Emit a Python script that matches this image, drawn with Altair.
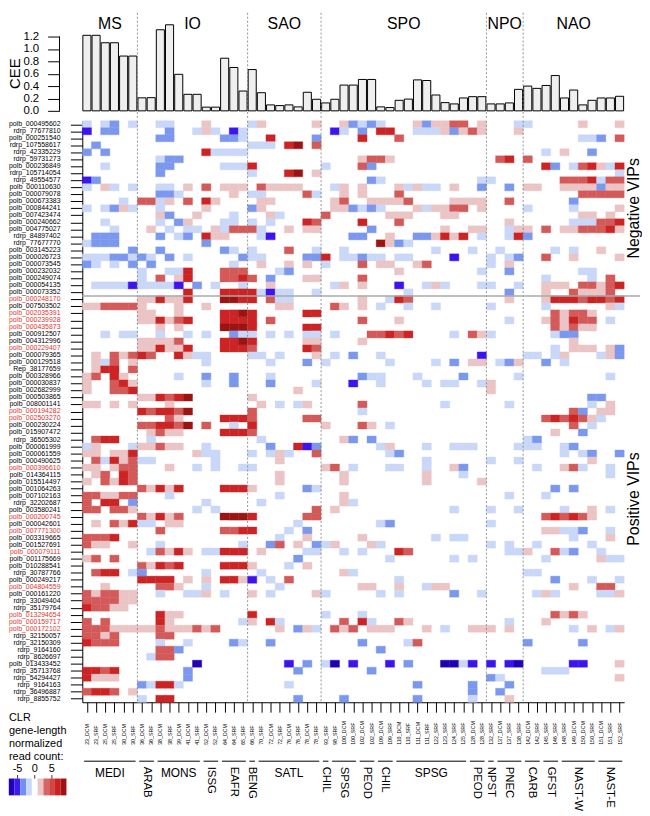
import altair as alt
import pandas as pd

FONT = "Liberation Sans"

samples = ["23_DCM", "23_SRF", "25_DCM", "25_SRF", "30_DCM", "30_SRF", "36_DCM", "36_SRF",
           "38_DCM", "38_SRF", "39_DCM", "41_DCM", "41_SRF", "52_DCM", "52_SRF", "64_DCM",
           "64_SRF", "65_SRF", "66_SRF", "70_SRF", "72_DCM", "72_SRF", "76_DCM", "76_SRF",
           "78_DCM", "78_SRF", "93_SRF", "98_SRF", "100_DCM", "100_SRF", "102_DCM", "102_SRF",
           "109_DCM", "109_SRF", "110_DCM", "110_SRF", "111_DCM", "111_SRF", "122_SRF", "123_SRF",
           "124_SRF", "125_SRF", "128_DCM", "128_SRF", "132_SRF", "137_DCM", "137_SRF", "138_SRF",
           "142_DCM", "142_SRF", "145_SRF", "146_SRF", "148_SRF", "149_DCM", "150_DCM", "150_SRF",
           "151_DCM", "151_SRF", "152_SRF"]

cee = [1.22, 1.22, 1.10, 1.10, 0.885, 0.885, 0.21, 0.213, 1.31, 1.39, 0.59, 0.267, 0.267,
       0.06, 0.06, 0.85, 0.70, 0.32, 0.667, 0.293, 0.096, 0.085, 0.096, 0.064, 0.30, 0.187,
       0.128, 0.187, 0.416, 0.416, 0.507, 0.507, 0.064, 0.053, 0.17, 0.19, 0.50, 0.49, 0.256,
       0.133, 0.112, 0.208, 0.229, 0.229, 0.112, 0.112, 0.128, 0.347, 0.40, 0.363, 0.41, 0.57,
       0.208, 0.336, 0.096, 0.17, 0.208, 0.208, 0.235]

genes = ["polb_000495602", "rdrp_77677810", "polb_000251540", "rdrp_107558617", "rdrp_42335229",
         "rdrp_59731273", "polb_000236849", "rdrp_105714054", "rdrp_49554577", "polb_000110630",
         "polb_000079078", "polb_000673383", "polb_000844241", "polb_007423474", "polb_000240662",
         "polb_004775027", "rdrp_84897402", "rdrp_77677770", "polb_003145223", "polb_000026723",
         "polb_000073545", "polb_000232032", "polb_000249074", "polb_000054135", "polb_000073352",
         "polb_000248170", "polb_007503502", "polb_002035391", "polb_000239928", "polb_000435873",
         "polb_000912507", "polb_004312996", "polb_000229407", "polb_000079365", "polb_000129518",
         "Rep_38177659", "polb_000328966", "polb_000030837", "polb_002682999", "polb_000503865",
         "polb_008001141", "polb_000194282", "polb_002503270", "polb_000230224", "polb_015907472",
         "rdrp_36505302", "polb_000061999", "polb_000061559", "polb_000490625", "polb_000396610",
         "polb_014364115", "polb_015514497", "polb_001064263", "polb_007102163", "rdrp_32202687",
         "polb_003580241", "polb_000200745", "polb_000042601", "polb_007771300", "polb_003319665",
         "polb_001527691", "polb_000079111", "polb_001175669", "polb_010288541", "rdrp_30787766",
         "polb_000249217", "polb_004804559", "polb_000161220", "rdrp_33049404", "rdrp_35179764",
         "polb_013294654", "polb_000159717", "polb_000172102", "rdrp_32150057", "rdrp_32150309",
         "rdrp_9164160", "rdrp_8626697", "polb_013433452", "rdrp_35713768", "rdrp_54294427",
         "rdrp_9164163", "rdrp_36496887", "rdrp_8855752"]

red_genes = ["polb_000248170", "polb_002035391", "polb_000239928", "polb_000435873",
             "polb_000229407", "polb_000194282", "polb_002503270", "polb_000396610",
             "polb_000200745", "polb_007771300", "polb_000079111", "polb_004804559",
             "polb_013294654", "polb_000159717", "polb_000172102"]

# non-empty cells of each row: "<col or col-col><level>"
# levels: d,c,b,a = strongly .. weakly negative ; p,q,r,s = weakly .. strongly positive
heat_rows = [
    "0a 2a 3b 5a 8-9a 13p 18a 19p 25p 28p 29b 30a 31b 32a 36p 37b 38-39p 40-41q 43p 47-48a 54p 58p",
    "0c 2-3b 9b 12a 13p 14a 16c 17a 27c 28a 30b 32-33r 36-38a 39p 40b 41p 42q 43p 47p",
    "8-9b 15-16b 17a 20r 25b 30r 34q 54-55a 56b 58q",
    "1b 18-20a 22r 23s 25q",
    "0b 2b 13r 14-17a 50a 52p 55b",
    "8a 9-10b 30p 31-32q 33p 45q 46r 48q",
    "2a 8-9b 15-17a 18r 26a 30q 31b 50r 51b 53a 54q 55r 56p 57a 58r",
    "8b 18a 22r 23s 25p 58a",
    "0c 1b 31b 32a 43-44a 52-54q 55r 56a 57-58q",
    "0a 2p 3a 5a 8-9a 11p 13q 15-17p 19q 20-23p 27a 28p 30p 34p 35a 36p 37-38a 40p 43b 46b 48-49p 52-55p 56b 57-58p",
    "8-9b 10a 16p 18-19a 24q 25a 28p 30p 34q 54-58q",
    "4a 6-7q 8a 9p 11q 13r 14p 19-20p 27p 28q 31-34p 35q 40-43p 46q 53b",
    "0a 2a 3b 4p 5a 8a 13p 18b 19p 27p 28p 29b 30a 31b 32a 36p 37a 38-39p 40-41q 43p 48a 53a 58p",
    "8p 9b 12p 16a 20p 21a 26q 33-35p 39-40p 54-55p 57p",
    "2a 8a 10b 11p 15-16a 18a 20a 24r 25q 30r 34q 46p 53-55a 56-57q 58r",
    "3a 7p 9a 11-12a 14p 15a 16-18q 19a 22p 24-25p 31b 39p 42-43p 46a 47-48p 50q 52-53p 54-56q 57r 58p",
    "1-3b 8b 10a 11b 13r 14-15p 19a 20c 29-30b 33p 36-37b 38p 39r 40p 41r 43a 46a 47r 48b",
    "0a 1-3b 13b 32s 33p 34b 35a",
    "5b 8b 15b 16a 18a 22q 25a 28a 38a 42a 45a 51a 53a 56p",
    "0-2a 3-4b 5a 6b 7a 9b 11a 17b 18-19a 24-25b 26r 28-29a 30b 31-32a 34-35a 40c 44a 46a 47b 50q 53p 58p",
    "0b 1a 3a 5b 7b 16a 19p 22p 24p 26a 30q 32-33p 36p 37q 44a 46p",
    "6a 9-10a 11r 15-17q 21a 22b 34p 43a 46b 54-55a",
    "6a 8q 10p 11r 15-16q 17r 18q 20b 24-25p 30q 50a 55a 57q",
    "1-4a 5c 6-9a 10c 12b 14a 17a 20p 27a 28p 30p 34c 37a 38p 39a 43-44a 47a 50-52p 54-55q 56p 57q 58r",
    "11r 15-18r 19a 20c 21-22a 25a 35a 46b 50p 53q 54-56p 57q",
    "6-7p 8r 9-10p 11r 15-16s 17-18r 20q 21-22a 30p 33a 34r 35q 46p 50p 51-52r 53r 54q 55-56r 57q 58r",
    "0-1p 2-5q 6p 10p 13p 21-22p 27q 28p 30p 32a 35a 38a 44a 50a 57p 58a",
    "6-7p 10p 15-16r 17s 18r 24-25r 51q 52p 53-54q 55p",
    "6-7p 8r 9p 10q 11r 15-18r 20q 30q 34p 46a 50p 51q 52p 53r 54-55q 57a",
    "8p 10p 15-17s 18r 24-25r 51q 52p 53q 54-55p",
    "2a 4-5a 8a 11a 13a 16b 17-18a 20a 22a 24-25a 27a 31-32q 33r 34q 35r 40a 42q 43p 44a 51a 52-53b",
    "6-9p 10q 15-16r 17s 18r 24-25p 30p 53p",
    "6-7p 8r 9-10p 11r 15-17r 18q 24r 25q 51a 53-55p 57p 58b",
    "1p 3q 4p 5q 6r 7q 10r 11p 12-13a 18-19a 21a 25p 27a 29b 32a 43c 48-49a 51a 52p 56a 57p 58b",
    "1p 2a 3q 5p 13a 20a 24b 26a 33a 38a 40b 42-43p 45a 46b 47p 50b 52a",
    "1p 2-3r 5q",
    "0p 1q 3r 4p 10a 13b 16b 20a 30b 31-32a 36a 41b 47a 57a",
    "0p 3q 4r 5p 13a 16b 20b 25a 29c 32a 37a 39-40a 43a 44p",
    "0p 3-4q 5r 23p 44p",
    "6-7p 8r 9q 10r 11s 18p 55-56b",
    "0-1p 3p 5p 9p 19p 21a 23a 24p 30q 39a 46a 55a 57p",
    "6r 7q 8-9r 10q 11s 18q 30a 53q 54b 56-57p",
    "9q 10p 15-17r 18q 24-25q 50q 51r 52q 53r 54q 55p 56a",
    "6-7q 8-9r 10q 11s 13q 16a 18r 26p 30q 31p 33a 53q 55a",
    "7p 8q 9-10p 15-17r 18q 51p 54b",
    "1q 2-3r 7a 19a 28p 29b 31b 48a 49b",
    "0a 1p 5a 6-7p 8q 9-10p 13a 20b 23r 24c 25b 32a 33p 37a 40-42a 47-49a 52a 53b",
    "0-1p 3-4p 5r 12p 13-14a 18a 20a 21p 22a 25q 33a 34b 52a 54a 55b 58b",
    "1q 2a 3r 4p 5q 6-7a 14a 21p 37a 44a 47a 55p",
    "0-1p 3p 4-5q 9p 12a 14a 17-18a 26p 27q 29a 33-34a 37a 40p 41b 49a 52p 53q 54a 57a",
    "1p 2q 4r 5q 21p 28p 37p 41a 57a",
    "0p 2q 3p 4r 5q 21p 28p 37p 43p",
    "6q 7p 8r 9p 10r 15-17r 18p 24b 25a 51b 53b",
    "0-1q 2-3p 4-5q 9a 21a 28p 46a 50a",
    "0q 2-3r 5b 13a 19a 28p 29a",
    "0-1q 3-4q 5p 12a 14a 25q 27p 40a 44a 47a 52a 55p 57a",
    "6q 7p 8r 9p 10q 15-17s 18r 24-25q 50q 51r 52q 53r 54q 55p",
    "1p 3q 4p 5r 6-7a 9-10p 23a 32a 33b 44a",
    "8q 15-16q 17-18r 22a 24b 50-51p 52-53a 54b 57a",
    "0-2q 3r 21a 24p 30p 38a 40-41a 53a 57p",
    "0q 1-2p 5p 8a 17a 20b 21q 23p 25b 26a 27p 31p 32a 44a 46a 49a 55a",
    "7a 8q 9p 10r 11p 13-14a 15-17r 19p 24-25a 28a 30a 34r 35q 46-47a 48p 51q 52a 53b 56a",
    "0p 1q 3q 23b 33a 40a 42a 50a 56p 57-58a",
    "6q 7p 8r 9q 10r 15-17r 18p 22a 24p",
    "1q 2-3r 5a 6b 13a 19a 28p 29a 48-49a",
    "6-9r 11p 13p 15-16r 17p 18c 20a 22q 34a 51b 55a 58a",
    "2p 8-9q 10p 13a 21a 30-31p 34p 37a 38-39p 53p 56-57q",
    "0q 1p 2-3q 4-5p 8a 11-12a 13p 15a 18p 20a 25p 26a 32a 34a 40b 43a 49a 50p 51a 56-57a 58p",
    "0-3q 4-5p",
    "0r 1-2q 3-4p",
    "8r 9-10p 18r 26a 30a 51q 52p 53q 54p",
    "0q 2q 8r 9p 17a 18p 20r 21a 28q 30r 31a 34q 35p 46a 50p",
    "0-2q 3-7p 8q 9-11p 12q 13p 14q 21p 23b 24p 25a 27q 28p 29q 31-33p 37p 39a 42-44p 46p 53a 55p 57a 58p",
    "0-1q 2p 3q 8-9q",
    "0r 1-3q 8a 11a 16b 17a 20b 30b 35a 36q 48b 54b",
    "8-9q 10b 32b",
    "7a 8-9q",
    "12d 22c 24b 26a 27d 29c 33c 35b 39-40d 41a 42c 44c 46c 47d 53-54c 58p",
    "0-1r 2q 3r 11b 23b 31b 50-52a",
    "0r 1-3p 11b 44b 45a 58p",
    "6b 7a 8-9r 10a 22a 36b 42b 46b",
    "0q 1-2r 3q 5p 42b 45b",
    "6a 8-9r 23b 28b 36b 42a 46p",
]

level_codes = ["d", "c", "b", "a", "p", "q", "r", "s"]
level_colors = ["#2200b4", "#3c14f0", "#7b98ee", "#c9d7f8",
                "#ebc4c5", "#d45a5a", "#cc2424", "#9b1414"]

provinces = ["MEDI", "ARAB", "MONS", "ISSG", "EAFR", "BENG", "SATL", "CHIL", "SPSG", "PEOD",
             "CHIL", "SPSG", "PEOD", "NPST", "PNEC", "CARB", "GFST", "NAST-W", "NAST-E"]
prov_first = [0, 6, 8, 13, 15, 18, 19, 26, 27, 30, 32, 34, 42, 44, 45, 48, 50, 52, 56]
prov_last = [5, 7, 12, 14, 17, 18, 25, 26, 29, 31, 33, 41, 43, 44, 47, 49, 51, 55, 58]
prov_rotated = [False, True, False, True, True, True, False, True, True, True,
                True, False, True, True, True, True, True, True, True]

oceans = ["MS", "IO", "SAO", "SPO", "NPO", "NAO"]
ocean_first = [0, 6, 18, 26, 44, 48]
ocean_end = [6, 18, 26, 44, 48, 59]

legend_colors = ["#2400bc", "#3a1cee", "#7090ee", "#c8d8f8", "#ffffff",
                 "#ecc6c6", "#d86464", "#d04646", "#ca2020", "#9e1212"]
legend_edges = [-7.56, -5.88, -4.2, -2.52, -0.84, 0.84, 2.52, 4.2, 5.88, 7.56, 9.24]
legend_ticks = [-5, 0, 5]

N = len(samples)
R = len(genes)
W, H, BH = 547, 587, 99
GAP = 8.5

# ---------- data tables ----------
cells = []
for r, s in enumerate(heat_rows):
    for tok in s.split():
        code, rng = tok[-1], tok[:-1]
        if "-" in rng:
            a, b = (int(v) for v in rng.split("-"))
        else:
            a = b = int(rng)
        for c in range(a, b + 1):
            if c < N:
                cells.append({"col": c, "col2": c + 1, "row": r, "row2": r + 1, "code": code})
cells_df = pd.DataFrame(cells)

bar_df = pd.DataFrame({"x0": [i + 0.06 for i in range(N)], "x1": [i + 0.94 for i in range(N)],
                       "cee": cee, "zero": [0.0] * N})
sample_df = pd.DataFrame({"xc": [i + 0.5 for i in range(N)], "name": samples})
gene_df = pd.DataFrame({"yc": [r + 0.5 for r in range(R)], "name": genes,
                        "clr": ["#e3342f" if g in red_genes else "#000000" for g in genes]})
bound_df = pd.DataFrame({"b": ocean_first[1:]})
ocean_df = pd.DataFrame({"mid": [(a + b) / 2 for a, b in zip(ocean_first, ocean_end)], "name": oceans})
prov_df = pd.DataFrame({"x0": [a + 0.2 for a in prov_first], "x1": [b + 0.8 for b in prov_last],
                        "mid": [(a + b + 1) / 2 for a, b in zip(prov_first, prov_last)],
                        "name": provinces, "rot": prov_rotated})
legend_df = pd.DataFrame({"lo": legend_edges[:-1], "hi": legend_edges[1:], "color": legend_colors})
ltick_df = pd.DataFrame({"v": legend_ticks, "t": [str(v) for v in legend_ticks]})
one_df = pd.DataFrame({"a": [0]})

xs = alt.Scale(domain=[0, N], nice=False, zero=False)
ys = alt.Scale(domain=[0, R], reverse=True, nice=False, zero=False)
yb = alt.Scale(domain=[0, 1.584], nice=False, zero=False)
cscale = alt.Scale(domain=level_codes, range=level_colors)

# shared axis definitions (same object in every layer that uses the scale)
bar_yaxis = alt.Axis(values=[0, 0.2, 0.4, 0.6, 0.8, 1.0, 1.2], format=".1f",
                     tickSize=12, offset=23, domain=False, grid=False, title=None,
                     labelFontSize=11.5, labelPadding=9, labelColor="black",
                     tickColor="black", tickWidth=1)
heat_xaxis = alt.Axis(values=[i + 0.5 for i in range(N)], labels=False, tickSize=10,
                      grid=False, title=None, tickColor="black", domainColor="black",
                      tickWidth=1, domainWidth=1)
heat_yaxis = alt.Axis(values=[r + 0.5 for r in range(R)], labels=False, tickSize=12,
                      grid=False, title=None, tickColor="black", domainColor="black",
                      tickWidth=1, domainWidth=1)

# ---------- bar chart ----------
bars = alt.Chart(bar_df).mark_rect(fill="#efefef", stroke="black", strokeWidth=1).encode(
    x=alt.X("x0:Q", scale=xs, axis=None), x2="x1:Q",
    y=alt.Y("cee:Q", scale=yb, axis=bar_yaxis), y2="zero:Q")
bar_axis_line = alt.Chart(pd.DataFrame({"y0": [0.0], "y1": [1.2]})).mark_rule(color="black").encode(
    x=alt.value(-23), y=alt.Y("y0:Q", scale=yb, axis=bar_yaxis), y2="y1:Q")
cee_title = alt.Chart(pd.DataFrame({"v": [0.6]})).mark_text(
    text="CEE", angle=270, fontSize=15, baseline="middle", align="center").encode(
    x=alt.value(-68), y=alt.Y("v:Q", scale=yb, axis=bar_yaxis))
ocean_text = alt.Chart(ocean_df).mark_text(fontSize=16, baseline="middle", align="center").encode(
    x=alt.X("mid:Q", scale=xs, axis=None), y=alt.value(11), text="name:N")
bar_bounds = alt.Chart(bound_df).mark_rule(strokeDash=[2, 2], color="#777777", strokeWidth=0.8).encode(
    x=alt.X("b:Q", scale=xs, axis=None), y=alt.value(0), y2=alt.value(BH + GAP))
bar_chart = alt.layer(bars, bar_axis_line, cee_title, ocean_text, bar_bounds).properties(
    width=W, height=BH)

# ---------- heatmap ----------
heat = alt.Chart(cells_df).mark_rect(strokeWidth=0.4).encode(
    x=alt.X("col:Q", scale=xs, axis=heat_xaxis), x2="col2:Q",
    y=alt.Y("row:Q", scale=ys, axis=heat_yaxis), y2="row2:Q",
    color=alt.Color("code:N", scale=cscale, legend=None),
    stroke=alt.Stroke("code:N", scale=cscale, legend=None))
heat_bounds = alt.Chart(bound_df).mark_rule(strokeDash=[2, 2], color="#777777", strokeWidth=0.8).encode(
    x=alt.X("b:Q", scale=xs, axis=heat_xaxis), y=alt.value(0), y2=alt.value(H))
split_line = alt.Chart(pd.DataFrame({"y": [25]})).mark_rule(color="#aaaaaa", strokeWidth=1.5).encode(
    y=alt.Y("y:Q", scale=ys, axis=heat_yaxis), x=alt.value(0), x2=alt.value(W + 16))
gene_labels = alt.Chart(gene_df).mark_text(align="right", baseline="middle", fontSize=7).encode(
    x=alt.value(-22), y=alt.Y("yc:Q", scale=ys, axis=heat_yaxis), text="name:N",
    color=alt.Color("clr:N", scale=None))
sample_labels = alt.Chart(sample_df).mark_text(angle=270, align="left", baseline="middle",
                                               fontSize=5.3).encode(
    x=alt.X("xc:Q", scale=xs, axis=heat_xaxis), y=alt.value(H + 43), text="name:N")
prov_lines = alt.Chart(prov_df).mark_rule(color="black", strokeWidth=1).encode(
    x=alt.X("x0:Q", scale=xs, axis=heat_xaxis), x2="x1:Q", y=alt.value(H + 59.5))
prov_h = alt.Chart(prov_df).transform_filter("!datum.rot").mark_text(
    fontSize=12, align="center", baseline="middle").encode(
    x=alt.X("mid:Q", scale=xs, axis=heat_xaxis), y=alt.value(H + 71), text="name:N")
prov_v = alt.Chart(prov_df).transform_filter("datum.rot").mark_text(
    fontSize=11.5, angle=90, align="left", baseline="middle").encode(
    x=alt.X("mid:Q", scale=xs, axis=heat_xaxis), y=alt.value(H + 65), text="name:N")
vip_df = pd.DataFrame({"t": ["Negative VIPs", "Positive VIPs"], "y": [12.5, 54.0]})
vip_text = alt.Chart(vip_df).mark_text(angle=270, fontSize=16, align="center", baseline="middle").encode(
    x=alt.value(W + 10), y=alt.Y("y:Q", scale=ys, axis=heat_yaxis), text="t:N")
legend_title = alt.Chart(one_df).mark_text(
    align="left", baseline="top", fontSize=11, lineHeight=13, lineBreak="\n").encode(
    x=alt.value(-74), y=alt.value(H + 10),
    text=alt.value("CLR\ngene-length\nnormalized\nread count:"))

main = alt.layer(heat, heat_bounds, split_line, gene_labels, sample_labels, prov_lines,
                 prov_h, prov_v, vip_text, legend_title)

lscale = alt.Scale(domain=[legend_edges[0], legend_edges[-1]], range=[-74.2, -16], nice=False, zero=False)
legend_rects = alt.Chart(legend_df).mark_rect().encode(
    x=alt.X("lo:Q", scale=lscale, axis=None), x2="hi:Q",
    y=alt.value(H + 77), y2=alt.value(H + 94),
    color=alt.Color("color:N", scale=None))
legend_tickmarks = alt.Chart(ltick_df).mark_rule(color="black", strokeWidth=0.8).encode(
    x=alt.X("v:Q", scale=lscale, axis=None), y=alt.value(H + 73.5), y2=alt.value(H + 77))
legend_labels = alt.Chart(ltick_df).mark_text(fontSize=11, align="center", baseline="middle").encode(
    x=alt.X("v:Q", scale=lscale, axis=None), y=alt.value(H + 67.5), text="t:N")
legend_layer = alt.layer(legend_rects, legend_tickmarks, legend_labels)

heat_chart = alt.layer(main, legend_layer).resolve_scale(x="independent").properties(
    width=W, height=H)

chart = alt.vconcat(bar_chart, heat_chart, spacing=0).properties(
    padding={"left": 0, "top": 0, "right": 0, "bottom": 0}, background="white"
).configure(font=FONT).configure_view(strokeWidth=0)

chart.save("out.html", embed_options={"renderer": "svg", "actions": False})
